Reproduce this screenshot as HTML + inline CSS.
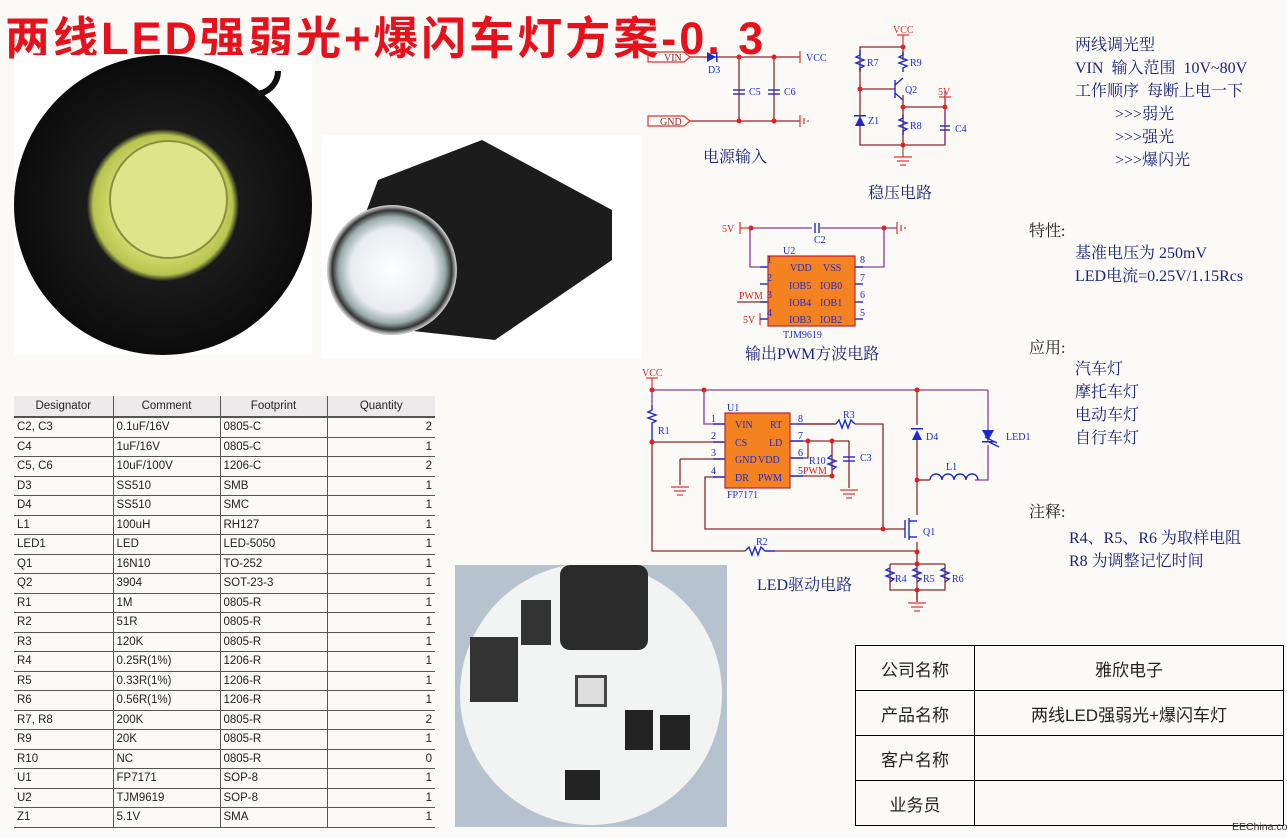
<!DOCTYPE html>
<html><head><meta charset="utf-8"><style>
body{margin:0;width:1287px;height:838px;background:#fcfaf6;position:relative;overflow:hidden;font-family:"Liberation Serif","Noto Serif CJK SC",serif}
.a{position:absolute;white-space:nowrap}
.t{color:#1a237e;font-size:16px}
table{border-collapse:collapse;font-family:"Liberation Sans","Noto Sans CJK SC",sans-serif;font-size:11.5px;color:#222}
#bom td{height:18.5px;padding:0 3px;border-bottom:1px solid #555;border-right:1px solid #555}
#bom th{font-weight:normal;background:#eceaea;height:18px;border-bottom:2px solid #555;border-right:1px solid #555}
#bom td:last-child,#bom th:last-child{border-right:none;text-align:right}
#bom th:last-child{text-align:center}
#info td{border:1px solid #000;height:44px;padding:0;font-size:17px;text-align:center;font-family:"Liberation Sans","Noto Sans CJK SC",sans-serif}
</style></head><body>
<div class="a" style="left:5px;top:2px;font:bold 45px 'Liberation Sans','Noto Sans CJK SC',sans-serif;color:#e8101a;letter-spacing:3px">两线LED强弱光+爆闪车灯方案-0. 3</div>

<!-- photo 1 -->
<div class="a" style="left:14px;top:55px;width:298px;height:300px;background:#fff;overflow:hidden">
 <div class="a" style="left:0;top:0;width:298px;height:300px;border-radius:50%;background:radial-gradient(circle at 50% 50%,#d9e07a 0,#cfd86a 25%,#b8c450 33%,#1a1a1a 36%,#0c0c0c 70%,#222 100%)"></div>
 <div class="a" style="left:95px;top:85px;width:115px;height:115px;border-radius:50%;border:2px solid #8a9040;background:#dde48a"></div>
 <div class="a" style="left:215px;top:-10px;width:40px;height:40px;border:6px solid #111;border-radius:50%;clip-path:inset(50% 0 0 50%)"></div>
</div>
<!-- photo 2 -->
<div class="a" style="left:322px;top:135px;width:320px;height:224px;background:#fff;overflow:hidden">
 <div class="a" style="left:30px;top:5px;width:260px;height:200px;background:#1c1c1c;clip-path:polygon(10% 20%,50% 0,100% 35%,100% 60%,55% 100%,20% 95%,0 55%)"></div>
 <div class="a" style="left:5px;top:70px;width:130px;height:130px;border-radius:50%;background:radial-gradient(circle,#fff 0,#e8ecf0 45%,#9aa 58%,#333 65%,#ccc 70%,#222 75%)"></div>
</div>
<!-- photo 3 PCB -->
<div class="a" style="left:455px;top:565px;width:272px;height:262px;background:#b6c3cf;overflow:hidden">
 <div class="a" style="left:5px;top:-2px;width:262px;height:262px;border-radius:50%;background:#f2f4f4"></div>
 <div class="a" style="left:105px;top:0;width:88px;height:85px;background:#2a2a2a;border-radius:10px"></div>
 <div class="a" style="left:15px;top:72px;width:48px;height:65px;background:#333"></div>
 <div class="a" style="left:66px;top:35px;width:30px;height:45px;background:#333"></div>
 <div class="a" style="left:120px;top:110px;width:26px;height:26px;background:#ddd;border:3px solid #444"></div>
 <div class="a" style="left:170px;top:145px;width:28px;height:40px;background:#222"></div>
 <div class="a" style="left:205px;top:150px;width:30px;height:35px;background:#222"></div>
 <div class="a" style="left:110px;top:205px;width:35px;height:30px;background:#222"></div>
</div>

<!-- BOM -->
<table id="bom" class="a" style="left:14px;top:396px;width:421px">
<colgroup><col style="width:99px"><col style="width:107px"><col style="width:107px"><col style="width:108px"></colgroup>
<tr><th>Designator</th><th>Comment</th><th>Footprint</th><th>Quantity</th></tr>
<tr><td>C2, C3</td><td>0.1uF/16V</td><td>0805-C</td><td>2</td></tr>
<tr><td>C4</td><td>1uF/16V</td><td>0805-C</td><td>1</td></tr>
<tr><td>C5, C6</td><td>10uF/100V</td><td>1206-C</td><td>2</td></tr>
<tr><td>D3</td><td>SS510</td><td>SMB</td><td>1</td></tr>
<tr><td>D4</td><td>SS510</td><td>SMC</td><td>1</td></tr>
<tr><td>L1</td><td>100uH</td><td>RH127</td><td>1</td></tr>
<tr><td>LED1</td><td>LED</td><td>LED-5050</td><td>1</td></tr>
<tr><td>Q1</td><td>16N10</td><td>TO-252</td><td>1</td></tr>
<tr><td>Q2</td><td>3904</td><td>SOT-23-3</td><td>1</td></tr>
<tr><td>R1</td><td>1M</td><td>0805-R</td><td>1</td></tr>
<tr><td>R2</td><td>51R</td><td>0805-R</td><td>1</td></tr>
<tr><td>R3</td><td>120K</td><td>0805-R</td><td>1</td></tr>
<tr><td>R4</td><td>0.25R(1%)</td><td>1206-R</td><td>1</td></tr>
<tr><td>R5</td><td>0.33R(1%)</td><td>1206-R</td><td>1</td></tr>
<tr><td>R6</td><td>0.56R(1%)</td><td>1206-R</td><td>1</td></tr>
<tr><td>R7, R8</td><td>200K</td><td>0805-R</td><td>2</td></tr>
<tr><td>R9</td><td>20K</td><td>0805-R</td><td>1</td></tr>
<tr><td>R10</td><td>NC</td><td>0805-R</td><td>0</td></tr>
<tr><td>U1</td><td>FP7171</td><td>SOP-8</td><td>1</td></tr>
<tr><td>U2</td><td>TJM9619</td><td>SOP-8</td><td>1</td></tr>
<tr><td>Z1</td><td>5.1V</td><td>SMA</td><td>1</td></tr>
</table>

<!-- schematics -->
<svg class="a" style="left:0;top:0" width="1287" height="838" font-family="Liberation Serif" font-size="10">
<defs>
<g id="gnd" stroke="#e53030" stroke-width="1.2"><line x1="-9" y1="0" x2="9" y2="0"/><line x1="-6" y1="4" x2="6" y2="4"/><line x1="-3" y1="8" x2="3" y2="8"/></g>
</defs>
<g stroke="#8b2a2a" stroke-width="1.3" fill="none">
<line x1="690" y1="57" x2="800" y2="57"/><line x1="690" y1="121" x2="800" y2="121"/>
<line x1="739" y1="57" x2="739" y2="121"/><line x1="774" y1="57" x2="774" y2="121"/>
<polyline points="860,89 860,47 903,47 903,60"/><polyline points="860,89 860,145 903,145 945,145 945,107 903,107"/>
<line x1="903" y1="95" x2="903" y2="145"/><line x1="860" y1="89" x2="895" y2="89"/>
<line x1="652" y1="391" x2="652" y2="405" stroke="#8b3a9a"/>
<polyline points="652,440 652,551 745,551"/><line x1="775" y1="551" x2="917" y2="551"/>
<line x1="652" y1="442" x2="725" y2="442"/>
<polyline points="680,459 680,485"/><line x1="680" y1="459" x2="725" y2="459"/>
<polyline points="725,477 705,477 705,529 883,529 883,424 855,424"/>
<line x1="883" y1="529" x2="905" y2="529"/>
<polyline points="790,441 808,441 808,458 790,458"/><line x1="808" y1="441" x2="849" y2="441"/>
<line x1="832" y1="441" x2="832" y2="476"/><polyline points="849,441 849,488"/>
<line x1="790" y1="476" x2="832" y2="476"/>
<line x1="917" y1="390" x2="917" y2="425"/><line x1="917" y1="440" x2="917" y2="515"/>
<line x1="917" y1="480" x2="930" y2="480"/>
<line x1="917" y1="542" x2="917" y2="600"/>
<polyline points="890,564 945,564"/><polyline points="890,564 890,590 945,590 945,564"/>
<line x1="917" y1="590" x2="917" y2="602"/>
</g>
<g stroke="#8b3a9a" stroke-width="1.3" fill="none">
<line x1="652" y1="390" x2="988" y2="390"/><polyline points="988,390 988,430"/><polyline points="988,445 988,480 975,480"/>
<polyline points="704,390 704,424 725,424"/>
<line x1="945" y1="91" x2="945" y2="125"/><line x1="945" y1="133" x2="945" y2="145"/>
<polyline points="750,228 812,228"/><polyline points="820,228 897,228"/>
<polyline points="750,228 750,267 768,267"/><polyline points="884,228 884,267 855,267"/>
</g>
<g fill="#e02020">
<circle cx="739" cy="57" r="2.5"/><circle cx="774" cy="57" r="2.5"/><circle cx="739" cy="121" r="2.5"/><circle cx="774" cy="121" r="2.5"/>
<circle cx="903" cy="47" r="2.5"/><circle cx="860" cy="89" r="2.5"/><circle cx="903" cy="107" r="2.5"/><circle cx="945" cy="107" r="2.5"/><circle cx="903" cy="145" r="2.5"/>
<circle cx="751" cy="228" r="2.5"/><circle cx="884" cy="228" r="2.5"/>
<circle cx="652" cy="390" r="2.5"/><circle cx="704" cy="390" r="2.5"/><circle cx="917" cy="390" r="2.5"/><circle cx="652" cy="442" r="2.5"/>
<circle cx="808" cy="441" r="2.5"/><circle cx="832" cy="441" r="2.5"/><circle cx="832" cy="476" r="2.5"/><circle cx="917" cy="480" r="2.5"/><circle cx="883" cy="529" r="2.5"/>
<circle cx="917" cy="552" r="2.5"/><circle cx="917" cy="564" r="2.5"/><circle cx="917" cy="590" r="2.5"/>
</g>
<g stroke="#e53030" stroke-width="1.2" fill="none">
<polygon points="648,52 684,52 690,57 684,62 648,62"/><polygon points="648,116 684,116 690,121 684,126 648,126"/>
<line x1="800" y1="51" x2="800" y2="63"/>
<line x1="800" y1="115" x2="800" y2="127"/><line x1="804" y1="118" x2="804" y2="124"/><line x1="808" y1="120" x2="808" y2="122"/>
<line x1="903" y1="35" x2="903" y2="47"/><line x1="897" y1="35" x2="909" y2="35"/>
<line x1="945" y1="97" x2="945" y2="107"/><line x1="939" y1="97" x2="951" y2="97"/>
<line x1="740" y1="228" x2="750" y2="228"/><line x1="740" y1="222" x2="740" y2="234"/>
<line x1="897" y1="222" x2="897" y2="234"/><line x1="901" y1="225" x2="901" y2="231"/><line x1="905" y1="227" x2="905" y2="229"/>
<line x1="760" y1="319" x2="768" y2="319"/><line x1="760" y1="313" x2="760" y2="325"/>
<line x1="652" y1="378" x2="652" y2="391"/><line x1="646" y1="378" x2="658" y2="378"/>
<line x1="737" y1="302" x2="768" y2="302" stroke="#8b2a2a"/>
</g>
<use href="#gnd" x="903" y="157"/><line x1="903" y1="145" x2="903" y2="157" stroke="#8b2a2a"/>
<use href="#gnd" x="680" y="487"/><use href="#gnd" x="849" y="490"/><use href="#gnd" x="917" y="603"/>
<g stroke="#1a2ad0" stroke-width="1.4" fill="none">
<line x1="733" y1="90" x2="745" y2="90"/><line x1="733" y1="94" x2="745" y2="94"/>
<line x1="768" y1="90" x2="780" y2="90"/><line x1="768" y1="94" x2="780" y2="94"/>
<polyline points="860,50 860,55 856,57 864,60 856,63 864,66 860,68 860,72"/>
<polyline points="903,52 903,55 899,57 907,60 899,63 907,66 903,68 903,72"/>
<polyline points="903,115 903,118 899,120 907,123 899,126 907,129 903,131 903,135"/>
<line x1="895" y1="80" x2="895" y2="98"/><line x1="895" y1="85" x2="903" y2="78"/><line x1="895" y1="93" x2="903" y2="100"/>
<line x1="940" y1="126" x2="950" y2="126"/><line x1="940" y1="130" x2="950" y2="130"/>
<line x1="815" y1="223" x2="815" y2="233"/><line x1="819" y1="223" x2="819" y2="233"/>
<line x1="760" y1="267" x2="768" y2="267"/><line x1="760" y1="284" x2="768" y2="284"/><line x1="760" y1="302" x2="768" y2="302"/><line x1="760" y1="319" x2="768" y2="319"/>
<line x1="855" y1="267" x2="863" y2="267"/><line x1="855" y1="284" x2="863" y2="284"/><line x1="855" y1="302" x2="863" y2="302"/><line x1="855" y1="319" x2="863" y2="319"/>
<polyline points="652,405 652,410 648,412 656,415 648,418 656,421 652,423 652,440"/>
<line x1="713" y1="424" x2="725" y2="424"/><line x1="713" y1="442" x2="725" y2="442"/><line x1="713" y1="459" x2="725" y2="459"/><line x1="713" y1="477" x2="725" y2="477"/>
<line x1="790" y1="424" x2="803" y2="424"/><line x1="790" y1="441" x2="803" y2="441"/><line x1="790" y1="458" x2="803" y2="458"/><line x1="790" y1="476" x2="803" y2="476"/>
<polyline points="836,424 839,420 842,428 845,420 848,428 851,420 855,424"/>
<polyline points="803,424 836,424" stroke="#8b2a2a"/>
<polyline points="745,551 749,547 752,555 755,547 758,555 761,547 765,551 775,551"/>
<polyline points="832,455 828,458 836,461 828,464 836,467 832,470"/>
<line x1="843" y1="457" x2="855" y2="457"/><line x1="843" y1="461" x2="855" y2="461"/>
<path d="M930,480 a6,6 0 0 1 12,0 a6,6 0 0 1 12,0 a6,6 0 0 1 12,0 a6,6 0 0 1 12,0"/>
<line x1="905" y1="520" x2="905" y2="538"/><line x1="909" y1="518" x2="909" y2="540"/><line x1="909" y1="521" x2="917" y2="521"/><line x1="909" y1="537" x2="917" y2="537"/>
<polyline points="890,568 886,570 894,573 886,576 894,579 890,582"/>
<polyline points="917,568 913,570 921,573 913,576 921,579 917,582"/>
<polyline points="945,568 941,570 949,573 941,576 949,579 945,582"/>
<line x1="985" y1="437" x2="997" y2="443"/><line x1="987" y1="441" x2="999" y2="447"/>
</g>
<g fill="#1a2ad0">
<polygon points="707,52 707,62 716,57"/><rect x="716" y="52" width="1.5" height="10"/>
<polygon points="855,126 865,126 860,116"/><rect x="854" y="115" width="12" height="1.5"/>
<polygon points="912,440 922,440 917,430"/><rect x="911" y="428" width="12" height="1.5"/>
<polygon points="982,430 994,430 988,441"/><rect x="982" y="441" width="12" height="1.5"/>
</g>
<rect x="768" y="256" width="87" height="70" fill="#f58220" stroke="#c0203a" stroke-width="1.2"/>
<rect x="725" y="413" width="65" height="75" fill="#f58220" stroke="#c0203a" stroke-width="1.2"/>
<g fill="#1a2ad0" font-size="10">
<text x="806" y="61">VCC</text><text x="708" y="73">D3</text><text x="749" y="95">C5</text><text x="784" y="95">C6</text>
<text x="867" y="66">R7</text><text x="910" y="66">R9</text><text x="905" y="93">Q2</text><text x="868" y="124">Z1</text><text x="910" y="129">R8</text><text x="955" y="132">C4</text>
<text x="814" y="243">C2</text><text x="783" y="254">U2</text><text x="783" y="338">TJM9619</text>
<text x="767" y="263">1</text><text x="767" y="281">2</text><text x="767" y="298">3</text><text x="767" y="316">4</text>
<text x="860" y="263">8</text><text x="860" y="281">7</text><text x="860" y="298">6</text><text x="860" y="316">5</text>
<text x="790" y="271">VDD</text><text x="823" y="271">VSS</text><text x="789" y="289">IOB5</text><text x="820" y="289">IOB0</text>
<text x="789" y="306">IOB4</text><text x="820" y="306">IOB1</text><text x="789" y="323">IOB3</text><text x="820" y="323">IOB2</text>
<text x="658" y="434">R1</text><text x="727" y="411">U1</text><text x="727" y="498">FP7171</text>
<text x="711" y="422">1</text><text x="711" y="439">2</text><text x="711" y="456">3</text><text x="711" y="474">4</text>
<text x="798" y="422">8</text><text x="798" y="439">7</text><text x="798" y="456">6</text><text x="798" y="474">5</text>
<text x="735" y="428">VIN</text><text x="770" y="428">RT</text><text x="735" y="446">CS</text><text x="769" y="446">LD</text>
<text x="735" y="463">GND</text><text x="758" y="463">VDD</text><text x="735" y="481">DR</text><text x="758" y="481">PWM</text>
<text x="843" y="418">R3</text><text x="809" y="464">R10</text><text x="860" y="461">C3</text><text x="926" y="440">D4</text><text x="1006" y="440">LED1</text>
<text x="946" y="470">L1</text><text x="923" y="535">Q1</text><text x="756" y="545">R2</text>
<text x="895" y="582">R4</text><text x="923" y="582">R5</text><text x="952" y="582">R6</text>
</g>
<g fill="#e02020" font-size="10">
<text x="664" y="61" fill="#8b2a2a">VIN</text><text x="660" y="125" fill="#8b2a2a">GND</text>
<text x="893" y="33">VCC</text><text x="938" y="95">5V</text><text x="722" y="232">5V</text>
<text x="739" y="299">PWM</text><text x="743" y="323">5V</text><text x="642" y="376">VCC</text><text x="803" y="474">PWM</text>
</g>
</svg>

<div class="a t" style="left:703px;top:144px">电源输入</div>
<div class="a t" style="left:868px;top:180px">稳压电路</div>
<div class="a t" style="left:745px;top:341px">输出PWM方波电路</div>
<div class="a t" style="left:757px;top:572px">LED驱动电路</div>

<div class="a t" style="left:1075px;top:34px;line-height:23px">两线调光型<br>VIN&nbsp; 输入范围&nbsp; 10V~80V<br>工作顺序&nbsp; 每断上电一下<br>&nbsp;&nbsp;&nbsp;&nbsp;&nbsp;&nbsp;&nbsp;&nbsp;&nbsp;&nbsp;&gt;&gt;&gt;弱光<br>&nbsp;&nbsp;&nbsp;&nbsp;&nbsp;&nbsp;&nbsp;&nbsp;&nbsp;&nbsp;&gt;&gt;&gt;强光<br>&nbsp;&nbsp;&nbsp;&nbsp;&nbsp;&nbsp;&nbsp;&nbsp;&nbsp;&nbsp;&gt;&gt;&gt;爆闪光</div>
<div class="a" style="left:1029px;top:218px;font-size:16px;color:#222">特性:</div>
<div class="a t" style="left:1075px;top:242px;line-height:23px">基准电压为 250mV<br>LED电流=0.25V/1.15Rcs</div>
<div class="a" style="left:1029px;top:335px;font-size:16px;color:#222">应用:</div>
<div class="a t" style="left:1075px;top:358px;line-height:23px">汽车灯<br>摩托车灯<br>电动车灯<br>自行车灯</div>
<div class="a" style="left:1029px;top:499px;font-size:16px;color:#222">注释:</div>
<div class="a t" style="left:1069px;top:527px;line-height:23px">R4、R5、R6 为取样电阻<br>R8 为调整记忆时间</div>

<table id="info" class="a" style="left:855px;top:645px;width:429px">
<tr><td style="width:118px">公司名称</td><td>雅欣电子</td></tr>
<tr><td>产品名称</td><td>两线LED强弱光+爆闪车灯</td></tr>
<tr><td>客户名称</td><td></td></tr>
<tr><td>业务员</td><td></td></tr>
</table>
<div class="a" style="left:1232px;top:821px;font:10.5px 'Liberation Sans',sans-serif;color:#333">EEChina.com</div>
</body></html>
